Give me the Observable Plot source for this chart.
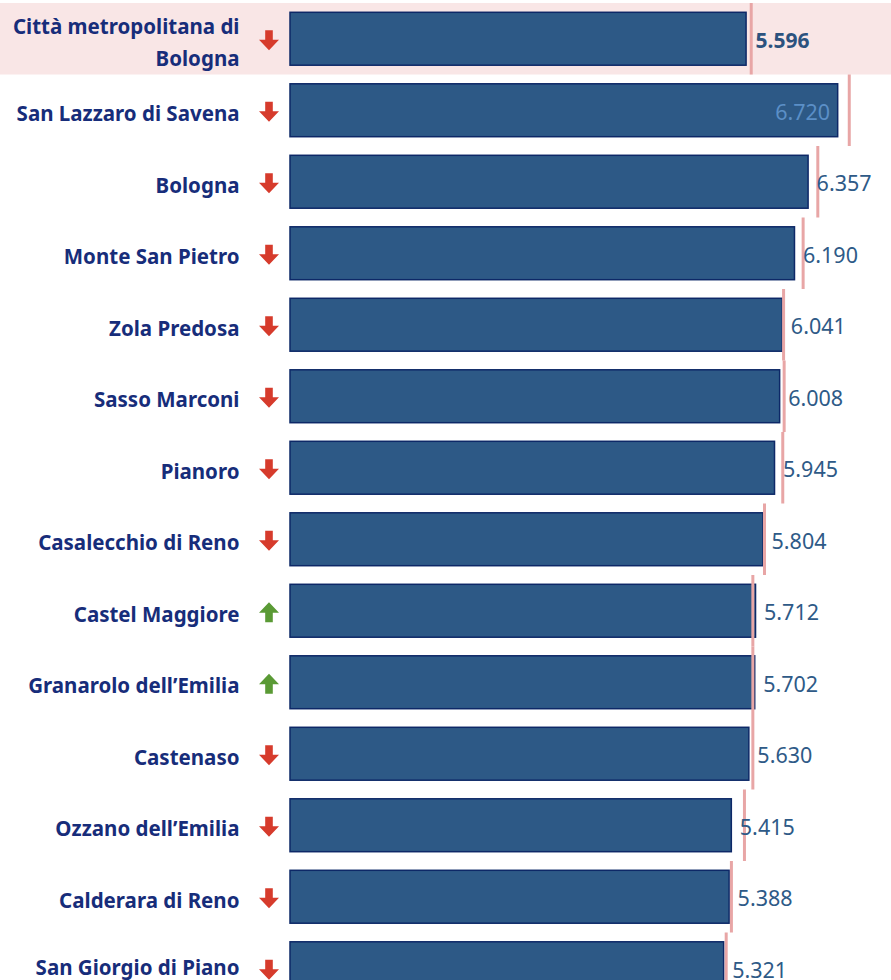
<!DOCTYPE html>
<html>
<head>
<meta charset="utf-8">
<script src="https://cdn.jsdelivr.net/npm/d3@7"></script>
<script src="https://cdn.jsdelivr.net/npm/@observablehq/plot@0.6"></script>
<style>
  html, body { margin: 0; padding: 0; background: #ffffff; overflow: hidden; }
  #chart svg { display: block; }
</style>
</head>
<body>
<div id="chart"></div>
<script>
const comuni = [
  "Città metropolitana di Bologna",
  "San Lazzaro di Savena",
  "Bologna",
  "Monte San Pietro",
  "Zola Predosa",
  "Sasso Marconi",
  "Pianoro",
  "Casalecchio di Reno",
  "Castel Maggiore",
  "Granarolo dell’Emilia",
  "Castenaso",
  "Ozzano dell’Emilia",
  "Calderara di Reno",
  "San Giorgio di Piano"
];
const etichette = [
  "Città metropolitana di\nBologna",
  "San Lazzaro di Savena",
  "Bologna",
  "Monte San Pietro",
  "Zola Predosa",
  "Sasso Marconi",
  "Pianoro",
  "Casalecchio di Reno",
  "Castel Maggiore",
  "Granarolo dell’Emilia",
  "Castenaso",
  "Ozzano dell’Emilia",
  "Calderara di Reno",
  "San Giorgio di Piano"
];
const valori = [5.596, 6.720, 6.357, 6.190, 6.041, 6.008, 5.945, 5.804, 5.712, 5.702, 5.630, 5.415, 5.388, 5.321];
const precedenti = [5.653, 6.856, 6.470, 6.290, 6.050, 6.057, 6.040, 5.816, 5.673, 5.673, 5.673, 5.570, 5.410, 5.346];
const trend = ["giù","giù","giù","giù","giù","giù","giù","giù","su","su","giù","giù","giù","giù"];

const data = comuni.map((c, i) => ({
  comune: c, etichetta: etichette[i], valore: valori[i], precedente: precedenti[i], trend: trend[i], i
}));
const last = comuni.length - 1;

const fmt = d3.format(".3f");

const arrowDown = {
  draw(ctx) {
    ctx.moveTo(-3.8, -10); ctx.lineTo(3.8, -10); ctx.lineTo(3.8, -0.5); ctx.lineTo(10, -0.5);
    ctx.lineTo(0, 10); ctx.lineTo(-10, -0.5); ctx.lineTo(-3.8, -0.5); ctx.closePath();
  }
};
const arrowUp = {
  draw(ctx) {
    ctx.moveTo(-3.8, 10); ctx.lineTo(3.8, 10); ctx.lineTo(3.8, 0.5); ctx.lineTo(10, 0.5);
    ctx.lineTo(0, -10); ctx.lineTo(-10, 0.5); ctx.lineTo(-3.8, 0.5); ctx.closePath();
  }
};

const W = 891, ML = 290, MR = 30.5;
const xMax = 7;
const pad = 9.3;

const labelStyle = {
  frameAnchor: "left", dx: -51, textAnchor: "end",
  fill: "#172d7a", fontWeight: "bold", fontSize: 20.5, lineHeight: 1.55
};

const chart = Plot.plot({
  width: W,
  height: 1004,
  marginTop: 3,
  marginBottom: 0,
  marginLeft: ML,
  marginRight: MR,
  style: { fontFamily: "'Noto Sans', sans-serif", background: "#ffffff" },
  x: { domain: [0, xMax], axis: null },
  y: { domain: comuni, axis: null, paddingInner: 0.26, paddingOuter: 0.13, align: 0.5, round: false },
  marks: [
    Plot.barX(data.filter(d => d.i === 0), {
      x1: 0, x2: xMax, y: "comune", fill: "#f9e6e6",
      insetLeft: -ML, insetRight: -MR, insetTop: -pad, insetBottom: -pad
    }),
    Plot.barX(data, {
      x: "valore", y: "comune", fill: "#2d5986", stroke: "#0d2867", strokeWidth: 1.5
    }),
    Plot.tickX(data, {
      x: "precedente", y: "comune", stroke: "#e8a6a6", strokeWidth: 3,
      insetTop: -pad, insetBottom: -pad
    }),
    Plot.text(data.filter(d => d.i !== last), {
      y: "comune", text: "etichetta", dy: 0.5, ...labelStyle
    }),
    Plot.text(data.filter(d => d.i === last), {
      y: "comune", text: "etichetta", dy: -4, ...labelStyle
    }),
    Plot.dot(data.filter(d => d.trend === "giù"), {
      y: "comune", frameAnchor: "left", dx: -21.5, dy: 1, symbol: arrowDown, fill: "#d63b2c", stroke: "none", r: 10
    }),
    Plot.dot(data.filter(d => d.trend === "su"), {
      y: "comune", frameAnchor: "left", dx: -21.5, dy: 1, symbol: arrowUp, fill: "#5a9a35", stroke: "none", r: 10
    }),
    Plot.text(data.filter(d => d.i === 0), {
      x: "valore", y: "comune", text: d => fmt(d.valore), dx: 9, dy: 2, textAnchor: "start",
      fill: "#2c527e", fontWeight: "bold", fontSize: 21
    }),
    Plot.text(data.filter(d => d.i !== 0 && d.valore > 6.5), {
      x: "valore", y: "comune", text: d => fmt(d.valore), dx: -8, dy: 2, textAnchor: "end",
      fill: "#5b8fc7", fontSize: 21.5
    }),
    Plot.text(data.filter(d => d.i !== 0 && d.valore <= 6.5), {
      x: "valore", y: "comune", text: d => fmt(d.valore), dx: 8, dy: 2, textAnchor: "start",
      fill: "#2e5a87", fontSize: 21.5
    })
  ]
});

document.getElementById("chart").appendChild(chart);
</script>
</body>
</html>
